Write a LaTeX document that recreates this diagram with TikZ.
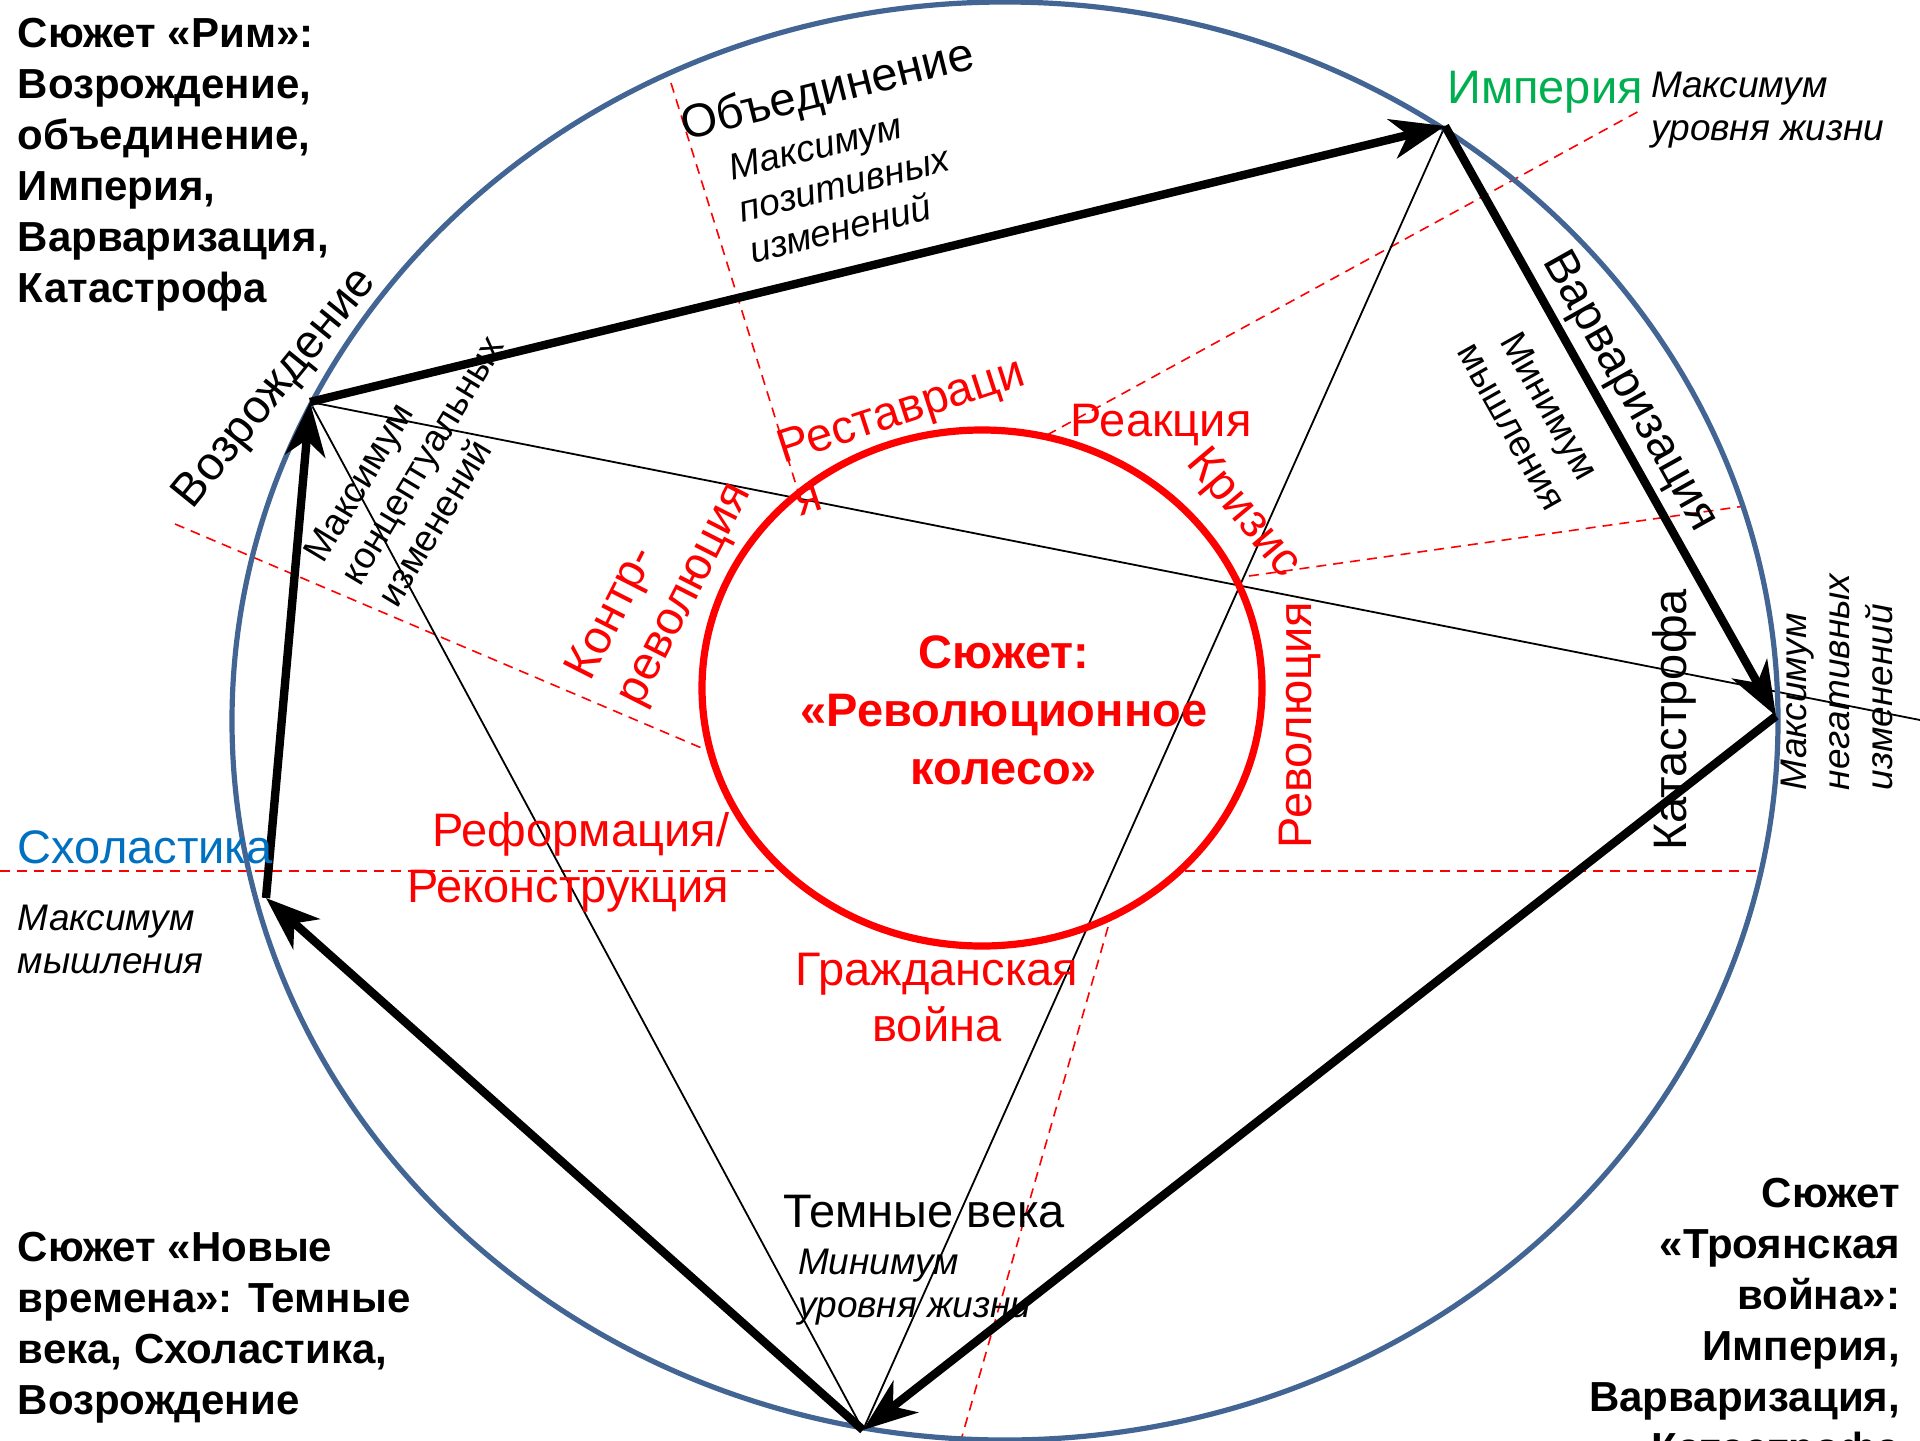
\documentclass[tikz,border=0pt]{standalone}
\usepackage{fontspec}
\setmainfont{Liberation Sans}
\usetikzlibrary{arrows.meta}
\definecolor{ellblue}{RGB}{66,101,148}
\definecolor{imgreen}{RGB}{0,176,80}
\definecolor{schblue}{RGB}{0,112,192}
\definecolor{pred}{RGB}{255,0,0}
\begin{document}
\begin{tikzpicture}[x=0.5pt,y=-0.5pt,
  every node/.style={inner sep=0pt, outer sep=0pt},
  ttl/.style={font=\fontsize{21}{25.5}\selectfont\bfseries},
  big/.style={font=\fontsize{23.5}{28}\selectfont},
  ital/.style={font=\fontsize{18.5}{21.5}\selectfont\itshape},
  small/.style={font=\fontsize{18.5}{21.5}\selectfont},
  redlbl/.style={big, text=pred},
  polyarrow/.style={line width=4.2pt, -{Stealth[length=27pt,width=20pt,inset=8pt]}, line join=miter},
  thinline/.style={line width=0.9pt},
  reddash/.style={draw=pred, line width=0.8pt, dash pattern=on 5pt off 3.5pt},
]
\useasboundingbox (0,0) rectangle (1920,1440);
\fill[white] (0,0) rectangle (1920,1440);
\clip (0,0) rectangle (1920,1440);

% vertices
\coordinate (voz) at (310,402);
\coordinate (imp) at (1445,126);
\coordinate (kat) at (1776,716);
\coordinate (dark) at (863,1430);
\coordinate (sch) at (266,898);
\coordinate (farR) at (1920,720);

% dashed sector lines
\coordinate (a1) at (671,83);   \coordinate (a2) at (802,504);
\coordinate (b1) at (1047,435); \coordinate (b2) at (1641,110);
\coordinate (c1) at (1249,576); \coordinate (c2) at (1745,506);
\coordinate (d1) at (0,871);    \coordinate (d2) at (774,871);
\coordinate (d3) at (1185,871); \coordinate (d4) at (1763,871);
\coordinate (e1) at (1108,927); \coordinate (e2) at (961,1440);
\coordinate (f1) at (175,524);  \coordinate (f2) at (704,749);
\draw[reddash] (a1) -- (a2);
\draw[reddash] (b1) -- (b2);
\draw[reddash] (c1) -- (c2);
\draw[reddash] (d1) -- (d2);
\draw[reddash] (d3) -- (d4);
\draw[reddash] (e1) -- (e2);
\draw[reddash] (f1) -- (f2);

% thin lines
\draw[thinline] (voz) -- (farR);
\draw[thinline] (voz) -- (dark);
\draw[thinline] (imp) -- (dark);

% circles
\draw[ellblue, line width=2.6pt] (1005,721) ellipse [x radius=773, y radius=719];
\draw[pred, line width=3.6pt] (982,688) ellipse [x radius=280, y radius=258];

% thick arrows
\draw[polyarrow] (voz) -- (imp);
\draw[polyarrow] (imp) -- (kat);
\draw[polyarrow] (kat) -- (dark);
\draw[polyarrow] (dark) -- (sch);
\draw[polyarrow] (sch) -- (voz);

% corner titles
\node[ttl, anchor=north west, align=left] (tRim) at (18,18) {Сюжет «Рим»:\\Возрождение,\\объединение,\\Империя,\\Варваризация,\\Катастрофа};
\node[ttl, anchor=north west, align=left] (tNew) at (18,1232) {Сюжет «Новые\\времена»: Темные\\века, Схоластика,\\Возрождение};
\node[ttl, anchor=north east, align=right] (tTroy) at (1900,1178) {Сюжет\\«Троянская\\война»:\\Империя,\\Варваризация,\\Катастрофа};

% black labels
\node[big, rotate=14] (lObed) at (828,92) {Объединение};
\node[ital, rotate=14, align=left] (lObedM) at (844,184) {Максимум\\позитивных\\изменений};
\node[big, text=imgreen] (lImp) at (1545,92) {Империя};
\node[ital, anchor=west, align=left] (lImpM) at (1651,110) {Максимум\\уровня жизни};
\node[big, rotate=-60.7] (lVar) at (1629,392) {Варваризация};
\node[small, rotate=-60.7, align=center] (lVarM) at (1531,416) {Минимум\\мышления};
\node[big, rotate=90] (lKat) at (1674,720) {Катастрофа};
\node[ital, rotate=90, anchor=west, align=left] (lKatM) at (1837,790) {Максимум\\негативных\\изменений};
\node[big, rotate=51] (lVoz) at (276,389) {Возрождение};
\node[small, rotate=59, align=left] (lVozM) at (422,460) {Максимум\\концептуальных\\изменений};
\node[big, text=schblue, anchor=west] (lSch) at (18,847) {Схоластика};
\node[ital, anchor=west, align=left] (lSchM) at (18,939) {Максимум\\мышления};
\node[big] (lDark) at (924,1212) {Темные века};
\node[ital, anchor=west, align=left] (lDarkM) at (798,1287) {Минимум\\уровня жизни};

% red labels
\node[redlbl, rotate=18, align=left] (rRest) at (909,435) {Реставраци\\я};
\node[redlbl] (rReak) at (1161,425) {Реакция};
\node[redlbl, rotate=-50] (rKriz) at (1243,514) {Кризис};
\node[redlbl, rotate=90] (rRev) at (1300,725) {Революция};
\node[redlbl, align=center] (rGraz) at (937,998) {Гражданская\\война};
\node[redlbl, align=right, anchor=east] (rRef) at (729,862) {Реформация/\\Реконструкция};
\node[redlbl, rotate=63, align=left] (rKontr) at (661,582) {Контр-\\революция};
\node[font=\fontsize{23.5}{29}\selectfont\bfseries, text=pred, align=center] (center) at (1004,710) {Сюжет:\\«Революционное\\колесо»};
\end{tikzpicture}
\end{document}
